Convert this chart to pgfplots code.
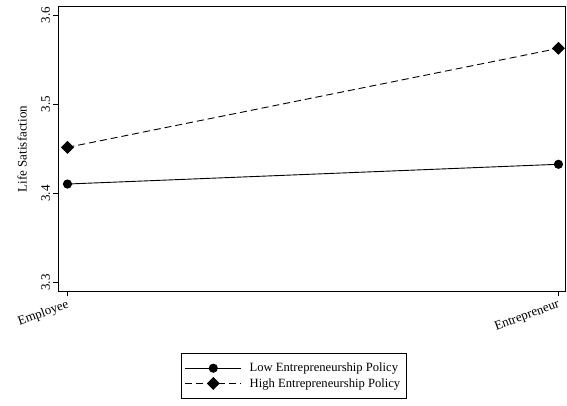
\documentclass[border=0pt]{standalone}
\usepackage{pgfplots}
\pgfplotsset{compat=1.18}
\usepackage{fontspec}
\setmainfont{Liberation Serif}
\begin{document}
\begin{tikzpicture}
\begin{axis}[
  at={(0,0)}, anchor=south west,
  scale only axis,
  width=507.5pt, height=284.6pt,
  xmin=-0.0187, xmax=1.015,
  ymin=3.29, ymax=3.6097,
  xtick={0,1}, xticklabels={Employee,Entrepreneur},
  ytick={3.3,3.4,3.5,3.6},
  yticklabels={3.3,3.4,3.5,3.6},
  tick align=outside, xtick pos=left, ytick pos=left,
  major tick length=5pt,
  tick style={black, line width=0.8pt},
  axis line style={line width=0.8pt},
  every tick label/.append style={font=\fontsize{13}{16}\selectfont},
  /pgf/number format/assume math mode=true,
  xticklabel style={rotate=20, anchor=north east, inner sep=2pt},
  yticklabel style={rotate=90, anchor=south, inner sep=3pt},
  ylabel={Life Satisfaction},
  ylabel style={font=\fontsize{13}{16}\selectfont, yshift=8pt},
  legend style={at={(0.4645,-0.2157)}, anchor=north, font=\fontsize{12.6}{15}\selectfont,
    draw=black, line width=0.8pt, inner xsep=3.5pt, inner ysep=8pt, row sep=1pt,
    nodes={inner xsep=3pt}},
  legend cell align=left,
  legend image code/.code={\draw[mark repeat=2,mark phase=2] plot coordinates {(0pt,0pt) (28pt,0pt) (56pt,0pt)};},
]
\addplot[black, line width=0.9pt, mark=*, mark size=4.1pt, mark options={solid}] coordinates {(0,3.4105) (1,3.4327)};
\addlegendentry{\hspace*{5pt}Low Entrepreneurship Policy}
\addplot[black, line width=0.9pt, dash pattern=on 7pt off 4pt, mark=square*, mark size=4.1pt, mark options={solid, rotate=45}] coordinates {(0,3.4517) (1,3.5629)};
\addlegendentry{\hspace*{5pt}High Entrepreneurship Policy}
\end{axis}
\path[use as bounding box] (-58.3pt,-113.7pt) rectangle (508.7pt,291.3pt);
\end{tikzpicture}
\end{document}
